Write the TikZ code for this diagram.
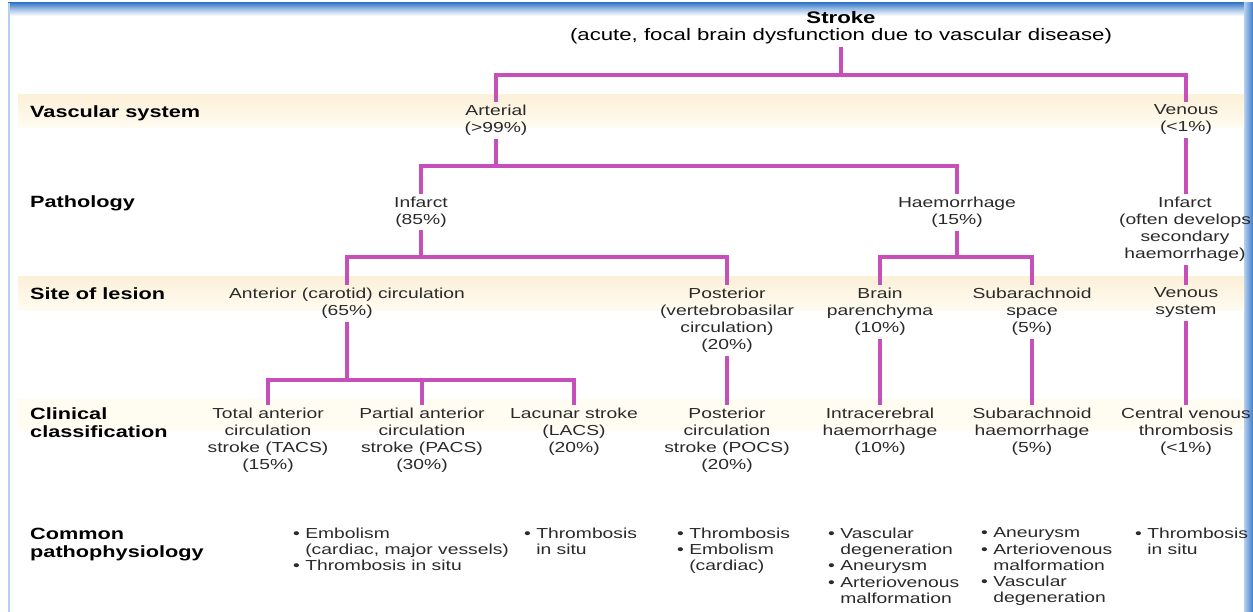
\documentclass[tikz,border=0pt]{standalone}
\usepackage{fontspec}
\setmainfont{Liberation Sans}[FakeStretch=1.33]
\definecolor{conn}{HTML}{C64FBA}
\definecolor{txt}{HTML}{2A2A2A}
\definecolor{bandtop}{HTML}{FCF0D8}
\definecolor{bandbot}{HTML}{FFFCF2}
\definecolor{framedark}{HTML}{3C7DCB}
\definecolor{framelight}{HTML}{B7D0EE}
\tikzset{
  tn/.style={align=center, inner sep=3pt, anchor=north, text=txt, font=\fontsize{14.5}{17}\selectfont},
  ttl/.style={align=center, inner sep=3pt, anchor=north, text=black, font=\fontsize{16.7}{17}\selectfont},
  hd/.style={align=left, inner sep=0pt, anchor=north west, text=black, font=\fontsize{16.3}{18}\selectfont\bfseries},
  bl/.style={align=left, inner sep=0pt, anchor=north west, text=txt, font=\fontsize{14.5}{16.3}\selectfont},
  link/.style={draw=conn, line width=4.8pt},
}
\newcommand{\hang}{\phantom{• }}
\begin{document}
\begin{tikzpicture}[x=1pt,y=-1pt]
\useasboundingbox (0,0) rectangle (1253,612);
\fill[white] (0,0) rectangle (1253,612);
% frame
\shade[top color=framedark, bottom color=white, middle color=framedark!45] (8,3) rectangle (1253,16);
\fill[framelight] (7.5,3) rectangle (9.5,612);
\shade[left color=framelight, right color=framedark] (1244,3) rectangle (1253,612);
% bands
\shade[top color=bandtop, bottom color=bandbot] (18,95) rectangle (1244,128);
\shade[top color=bandtop, bottom color=bandbot] (18,277) rectangle (1244,311);
\fill[bandbot] (18,399) rectangle (1244,430);
% row headings
\node[hd] (h1) at (30,105) {Vascular system};
\node[hd] (h2) at (30,195) {Pathology};
\node[hd] (h3) at (30,287) {Site of lesion};
\node[hd] (h4) at (30,407) {Clinical\\classification};
\node[hd] (h5) at (30,528) {Common\\pathophysiology};
% tree nodes
\node[ttl] (stroke) at (841,7.8) {\textbf{Stroke}\\(acute, focal brain dysfunction due to vascular disease)};
\node[tn] (arterial) at (496,101.6) {Arterial\\(>99\%)};
\node[tn] (venous) at (1186,101.6) {Venous\\(<1\%)};
\node[tn] (infarct) at (421,193.6) {Infarct\\(85\%)};
\node[tn] (haem) at (957,193.6) {Haemorrhage\\(15\%)};
\node[tn] (vinf) at (1185,193.6) {Infarct\\(often develops\\secondary\\haemorrhage)};
\node[tn] (ant) at (347,284.6) {Anterior (carotid) circulation\\(65\%)};
\node[tn] (post) at (727,284.6) {Posterior\\(vertebrobasilar\\circulation)\\(20\%)};
\node[tn] (brain) at (880,284.6) {Brain\\parenchyma\\(10\%)};
\node[tn] (subsp) at (1032,284.6) {Subarachnoid\\space\\(5\%)};
\node[tn] (vsys) at (1186,284.6) {Venous\\system};
\node[tn] (tacs) at (268,404.6) {Total anterior\\circulation\\stroke (TACS)\\(15\%)};
\node[tn] (pacs) at (422,404.6) {Partial anterior\\circulation\\stroke (PACS)\\(30\%)};
\node[tn] (lacs) at (574,404.6) {Lacunar stroke\\(LACS)\\(20\%)};
\node[tn] (pocs) at (727,404.6) {Posterior\\circulation\\stroke (POCS)\\(20\%)};
\node[tn] (ich) at (880,404.6) {Intracerebral\\haemorrhage\\(10\%)};
\node[tn] (sah) at (1032,404.6) {Subarachnoid\\haemorrhage\\(5\%)};
\node[tn] (cvt) at (1186,404.6) {Central venous\\thrombosis\\(<1\%)};
% pathophysiology lists
\node[bl] (c1) at (293,527.6) {• Embolism\\\hang(cardiac, major vessels)\\• Thrombosis in situ};
\node[bl] (c2) at (524,527.6) {• Thrombosis\\\hang in situ};
\node[bl] (c3) at (677,527.6) {• Thrombosis\\• Embolism\\\hang(cardiac)};
\node[bl] (c4) at (828,527.6) {• Vascular\\\hang degeneration\\• Aneurysm\\• Arteriovenous\\\hang malformation};
\node[bl] (c5) at (981,527.6) {• Aneurysm\\• Arteriovenous\\\hang malformation\\• Vascular\\\hang degeneration};
\node[bl] (c6) at (1135,527.6) {• Thrombosis\\\hang in situ};
% bar levels
\coordinate (b1) at (0,75);
\coordinate (b2) at (0,166);
\coordinate (b3) at (0,257);
\coordinate (b4) at (0,380);
% connectors
\draw[link] (stroke.south) |- (arterial.north |- b1) -- (arterial.north);
\draw[link] (stroke.south) |- (venous.north |- b1) -- (venous.north);
\draw[link] (arterial.south) |- (infarct.north |- b2) -- (infarct.north);
\draw[link] (arterial.south) |- (haem.north |- b2) -- (haem.north);
\draw[link] (venous.south) -- (venous.south |- vinf.north);
\draw[link] (infarct.south) |- (ant.north |- b3) -- (ant.north);
\draw[link] (infarct.south) |- (post.north |- b3) -- (post.north);
\draw[link] (haem.south) |- (brain.north |- b3) -- (brain.north);
\draw[link] (haem.south) |- (subsp.north |- b3) -- (subsp.north);
\draw[link] (venous.south |- vinf.south) -- (venous.south |- vsys.north);
\draw[link] (ant.south) |- (tacs.north |- b4) -- (tacs.north);
\draw[link] (ant.south) |- (pacs.north |- b4) -- (pacs.north);
\draw[link] (ant.south) |- (lacs.north |- b4) -- (lacs.north);
\draw[link] (post.south) -- (post.south |- pocs.north);
\draw[link] (brain.south) -- (brain.south |- ich.north);
\draw[link] (subsp.south) -- (subsp.south |- sah.north);
\draw[link] (vsys.south) -- (vsys.south |- cvt.north);
\end{tikzpicture}
\end{document}
